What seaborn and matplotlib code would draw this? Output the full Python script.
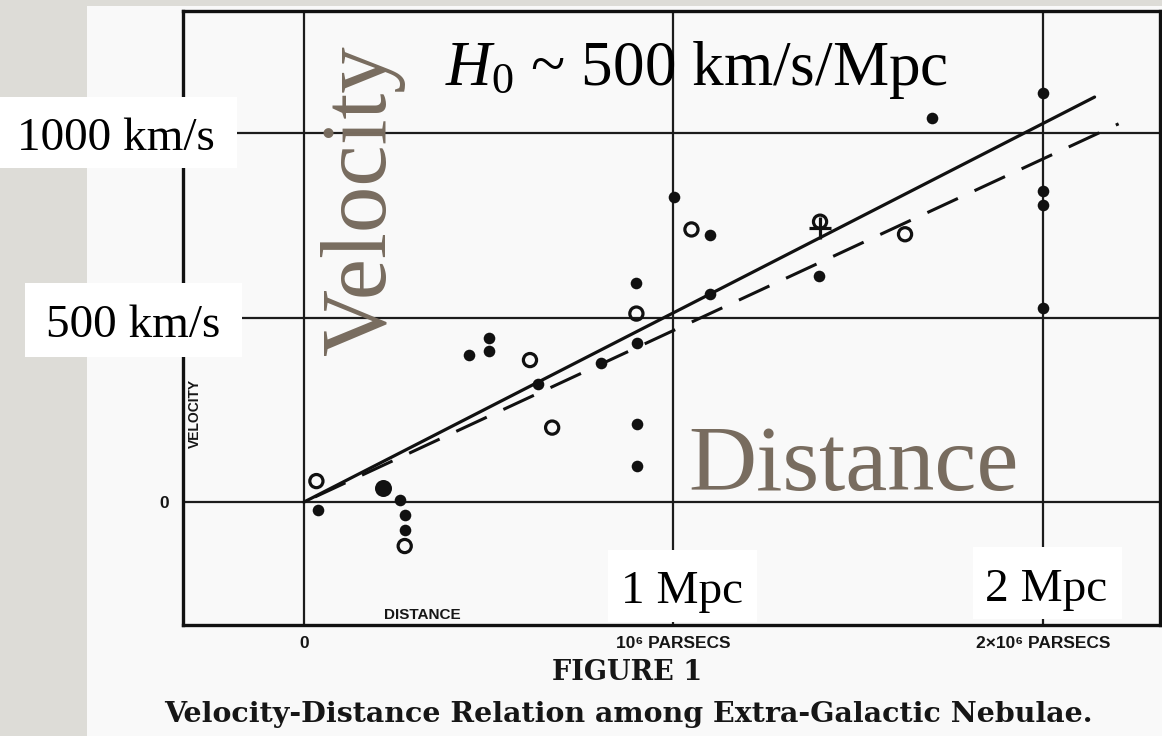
import matplotlib
matplotlib.use("Agg")
import matplotlib.pyplot as plt
from matplotlib.patches import Rectangle
import seaborn as sns

# Hubble (1929): distance in Mpc, radial velocity in km/s
filled_dist = [0.037, 0.26, 0.273, 0.273, 0.447, 0.501, 0.501, 0.634, 0.803,
               0.902, 0.90, 0.901, 0.901, 1.001, 1.10, 1.10, 1.395, 1.699,
               2.0, 2.0, 2.0, 2.0]
filled_vel = [-20, 5, -35, -76, 398, 444, 410, 320, 376,
              430, 594, 211, 98, 827, 724, 564, 612, 1040,
              1109, 844, 805, 525]
open_dist = [0.034, 0.273, 0.612, 0.672, 0.90, 1.049, 1.627, 1.397]
open_vel = [57, -119, 385, 202, 511, 739, 726, 760]
large_dist = [0.213]
large_vel = [37]
mean_dist = [1.397]
mean_vel = [742]

# fitted relations (km/s per Mpc) and their drawn extents (Mpc)
solid_slope = 513
dashed_slope = 465
solid_span = [0.0, 2.14]
dashed_span = [0.03, 2.205]

x_ticks = [0, 1, 2]
x_ticklabels = ["0", "10⁶ PARSECS", "2×10⁶ PARSECS"]
y_ticks = [0, 500, 1000]
y_ticklabels = ["0", "", ""]

W, H = 1162, 736
sns.set_theme(style="white")
plt.rcParams["mathtext.fontset"] = "custom"
plt.rcParams["mathtext.rm"] = "Liberation Serif"
plt.rcParams["mathtext.it"] = "Liberation Serif:italic"

SERIF = ["Liberation Serif", "DejaVu Serif"]
OLD = ["Liberation Sans Narrow", "Liberation Sans", "DejaVu Sans"]
CAPTION = ["DejaVu Serif"]
INK = "#161616"
BROWN = "#786c5f"


def fx(px):
    return px / W


def fy(py):
    return 1 - py / H


fig = plt.figure(figsize=(W / 100, H / 100), dpi=100)
fig.patch.set_facecolor("#dddcd7")
fig.add_artist(Rectangle((fx(87), 0), 1 - fx(87), fy(6), transform=fig.transFigure,
                         facecolor="#f9f9f9", edgecolor="none", zorder=0))

ax = fig.add_axes([fx(183), fy(625), fx(1160) - fx(183), fy(11) - fy(625)])
ax.set_facecolor("#f9f9f9")
ax.set_xlim(-0.327, 2.317)
ax.set_ylim(-333, 1331)

ax.set_axisbelow(True)
ax.grid(True, color="#1c1c1c", linewidth=1.6)
for s in ax.spines.values():
    s.set_color("#111111")
    s.set_linewidth(2.4)

ax.set_xticks(x_ticks, x_ticklabels)
ax.set_yticks(y_ticks, y_ticklabels)
ax.tick_params(length=0)
ax.tick_params(axis="x", pad=8)
ax.tick_params(axis="y", pad=10)
for lab in ax.get_xticklabels() + ax.get_yticklabels():
    lab.set_fontfamily(OLD)
    lab.set_fontweight("bold")
    lab.set_fontsize(12.5)
    lab.set_color(INK)

# fitted lines
sx = solid_span
sns.lineplot(x=sx, y=[solid_slope * v for v in sx], ax=ax, color="#111111",
             linewidth=2.3, zorder=3)
dx = dashed_span
sns.lineplot(x=dx, y=[dashed_slope * v for v in dx], ax=ax, color="#111111",
             linewidth=2.2, linestyle=(0, (11, 6)), zorder=3)

# nebulae
sns.scatterplot(x=filled_dist, y=filled_vel, ax=ax, color="#111111", s=70,
                linewidth=0, zorder=4)
sns.scatterplot(x=large_dist, y=large_vel, ax=ax, color="#111111", s=150,
                linewidth=0, zorder=4)
sns.scatterplot(x=open_dist, y=open_vel, ax=ax, s=90, facecolor="none",
                edgecolor="#111111", linewidth=2.3, zorder=4)
sns.scatterplot(x=mean_dist, y=mean_vel, ax=ax, marker="+", s=260,
                color="#111111", linewidth=2.3, zorder=4)

# axis words of the printed figure
ax.text(-0.295, 241, "VELOCITY", rotation=90, ha="center", va="center",
        fontsize=10, fontweight="bold", family=OLD, color=INK)
ax.text(0.32, -306, "DISTANCE", ha="center", va="center", fontsize=11,
        fontweight="bold", family=OLD, color=INK)

fig.text(fx(627), fy(672), "FIGURE 1", ha="center", va="center", fontsize=19.5,
         fontweight="bold", family=CAPTION, color=INK)
fig.text(fx(628), fy(722), "Velocity-Distance Relation among Extra-Galactic Nebulae.",
         ha="center", va="baseline", fontsize=20.5, fontweight="bold",
         family=CAPTION, color=INK)

# overlay labels
for (x0, y0, x1, y1) in [(0, 97, 237, 168), (25, 283, 242, 357),
                         (608, 550, 757, 622), (973, 547, 1122, 619)]:
    fig.add_artist(Rectangle((fx(x0), fy(y1)), fx(x1) - fx(x0), fy(y0) - fy(y1),
                             transform=fig.transFigure, facecolor="white",
                             edgecolor="none", zorder=5))
for (tx, ty, txt) in [(17, 150, "1000 km/s"), (46, 337, "500 km/s"),
                      (621, 603, "1 Mpc"), (985, 601, "2 Mpc")]:
    fig.text(fx(tx), fy(ty), txt, ha="left", va="baseline", fontsize=34,
             family=SERIF, color="black", zorder=6)

fig.text(fx(445), fy(85), r"$H_0$ ~ 500 km/s/Mpc", ha="left", va="baseline",
         fontsize=45.5, family=SERIF, color="black", zorder=6)
fig.text(fx(385), fy(355), "Velocity", rotation=90, rotation_mode="anchor",
         ha="left", va="baseline", fontsize=67, family=SERIF, color=BROWN, zorder=6)
fig.text(fx(688), fy(490), "Distance", ha="left", va="baseline", fontsize=68,
         family=SERIF, color=BROWN, zorder=6)

fig.savefig("out.png", dpi=100, facecolor=fig.get_facecolor())
